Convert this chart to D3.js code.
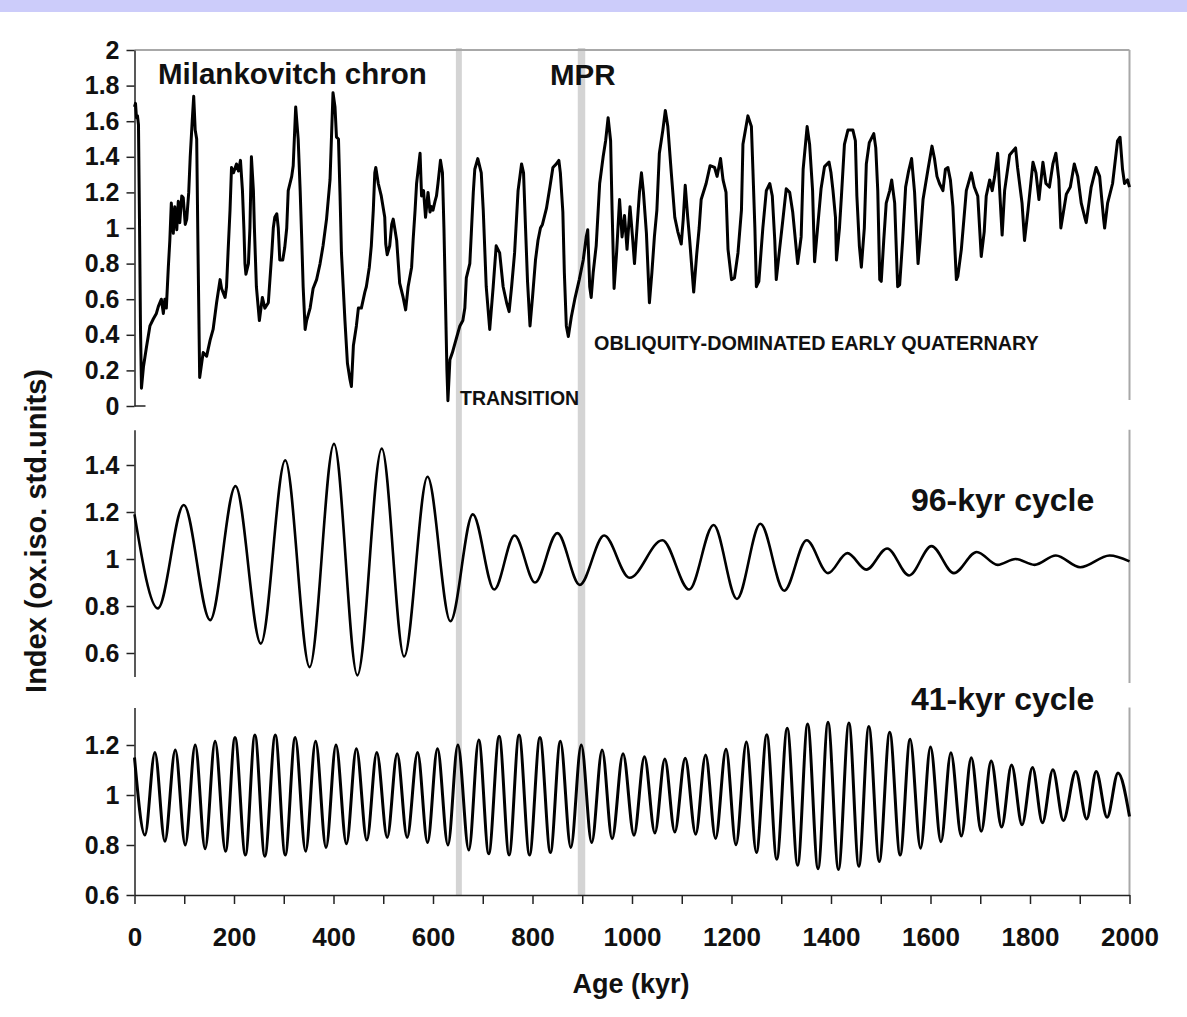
<!DOCTYPE html>
<html>
<head>
<meta charset="utf-8">
<script src="https://cdn.jsdelivr.net/npm/d3@7"></script>
<style>
  body { margin: 0; background: #fff; }
  svg { display: block; }
  text { font-family: "Liberation Sans", Arial, sans-serif; }
</style>
</head>
<body>
<div id="chart"></div>
<script>
// oxygen isotope index (top panel), age in kyr
const indexAge = [0,2,4,6,8,10,12,14,18,24,31,38,44,48,54,58,61,64,68,71,74,78,81,85,88,91,95,98,102,105,109,112,116,119,122,125,128,131,
  138,145,152,158,165,172,175,182,185,188,192,195,199,205,209,213,217,220,222,224,229,232,235,239,241,245,251,257,262,269,276,279,282,286,289,292,298,
  302,306,309,316,319,324,329,333,336,339,343,346,353,359,366,373,379,386,393,399,403,406,410,413,416,423,428,433,436,440,446,450,456,463,466,472,476,
  480,483,485,490,496,503,505,508,513,517,520,523,527,533,540,545,550,557,560,564,567,574,577,581,585,590,594,597,600,604,607,610,615,619,622,625,628,
  630,634,639,644,650,654,660,664,667,674,677,681,684,690,697,701,707,714,721,727,734,741,748,753,758,764,771,778,782,786,790,795,800,806,811,816,820,
  828,835,841,848,853,856,861,864,868,872,878,885,894,902,908,911,915,918,922,928,935,942,947,952,957,960,964,969,975,980,985,990,996,1001,1005,1010,
  1015,1019,1023,1029,1035,1040,1045,1050,1055,1062,1067,1072,1079,1086,1092,1099,1103,1107,1112,1116,1124,1130,1135,1139,1149,1157,1166,1171,1178,
  1183,1189,1193,1200,1206,1213,1220,1223,1233,1240,1243,1247,1250,1255,1260,1263,1270,1277,1282,1287,1290,1297,1303,1310,1317,1323,1333,1340,1344,
  1352,1357,1363,1367,1373,1380,1387,1396,1400,1404,1409,1411,1417,1421,1427,1434,1444,1449,1452,1457,1461,1467,1471,1477,1486,1490,1494,1498,1501,
  1506,1511,1518,1522,1528,1534,1538,1544,1550,1556,1562,1568,1575,1579,1585,1595,1603,1608,1613,1618,1625,1630,1635,1640,1645,1652,1655,1662,1672,
  1682,1688,1695,1702,1708,1712,1719,1724,1729,1735,1742,1744,1749,1759,1771,1775,1784,1789,1796,1806,1812,1818,1826,1832,1839,1846,1852,1858,1862,
  1873,1881,1889,1896,1903,1911,1913,1923,1933,1940,1948,1950,1956,1966,1976,1981,1986,1990,1996,2000];
const indexVal = [1.68,1.70,1.62,1.63,1.58,1.05,0.45,0.10,0.22,0.33,0.45,0.49,0.52,0.56,0.60,0.52,0.60,0.55,0.78,0.93,1.14,0.97,1.12,0.99,1.15,1.03,1.18,1.17,1.02,1.05,1.20,1.40,1.60,1.74,1.55,1.50,0.80,0.16,
  0.30,0.28,0.37,0.43,0.58,0.71,0.66,0.61,0.67,0.86,1.10,1.34,1.31,1.36,1.32,1.38,1.21,0.99,0.80,0.74,0.80,1.00,1.40,1.21,1.00,0.67,0.48,0.61,0.55,0.58,0.86,1.00,1.06,1.08,1.00,0.82,0.82,
  0.89,1.00,1.21,1.29,1.35,1.68,1.50,1.21,0.95,0.67,0.43,0.48,0.55,0.66,0.71,0.80,0.90,1.05,1.27,1.76,1.68,1.51,1.50,1.20,0.86,0.48,0.24,0.15,0.11,0.34,0.45,0.55,0.55,0.64,0.67,0.78,0.90,
  1.10,1.31,1.34,1.25,1.18,1.06,0.91,0.85,0.90,1.02,1.05,1.00,0.93,0.69,0.61,0.54,0.67,0.78,0.93,1.10,1.25,1.42,1.18,1.21,1.06,1.20,1.09,1.12,1.10,1.15,1.18,1.25,1.38,1.31,1.00,0.60,0.20,
  0.03,0.26,0.30,0.35,0.41,0.45,0.48,0.55,0.72,0.80,0.97,1.20,1.33,1.39,1.31,1.10,0.67,0.43,0.67,0.90,0.86,0.67,0.58,0.53,0.67,0.86,1.21,1.36,1.31,1.00,0.70,0.45,0.61,0.82,0.93,1.00,1.02,
  1.11,1.23,1.34,1.36,1.38,1.31,1.09,0.75,0.45,0.39,0.50,0.60,0.71,0.82,0.95,0.99,0.67,0.61,0.75,0.90,1.25,1.40,1.49,1.62,1.49,1.10,0.66,0.86,1.16,0.95,1.07,0.88,1.12,0.95,0.80,1.00,
  1.20,1.31,1.20,0.97,0.58,0.75,0.95,1.10,1.42,1.55,1.66,1.57,1.31,1.06,0.98,0.91,1.05,1.24,1.06,0.93,0.64,0.85,1.00,1.16,1.25,1.35,1.34,1.29,1.39,
  1.27,1.20,0.88,0.71,0.72,0.86,1.10,1.47,1.63,1.57,1.33,1.00,0.67,0.70,0.89,1.00,1.21,1.25,1.18,0.93,0.71,0.89,1.04,1.22,1.20,1.09,0.80,0.95,1.33,
  1.57,1.47,1.21,0.81,1.00,1.22,1.345,1.37,1.31,1.21,1.06,0.82,1.00,1.18,1.47,1.55,1.55,1.49,1.18,0.90,0.78,1.00,1.36,1.48,1.53,1.45,1.21,0.71,0.70,
  0.93,1.14,1.21,1.27,1.14,0.67,0.68,0.93,1.23,1.32,1.39,1.20,0.80,0.93,1.16,1.33,1.46,1.39,1.29,1.25,1.21,1.33,1.34,1.27,1.12,0.71,0.73,0.88,1.21,
  1.31,1.23,1.18,0.84,0.98,1.18,1.27,1.21,1.29,1.42,1.06,0.96,1.21,1.41,1.45,1.34,1.14,0.93,1.10,1.37,1.31,1.16,1.37,1.25,1.23,1.36,1.42,1.27,1.00,
  1.19,1.23,1.36,1.29,1.14,1.05,1.03,1.23,1.34,1.29,1.05,1.00,1.14,1.25,1.49,1.51,1.33,1.25,1.27,1.23];

// 96-kyr cycle, turning points
const c96Age = [0,47,99,152,203,254,303,352,401,448,497,542,589,635,680,723,764,805,850,895,944,995,1061,1115,1164,1211,1258,1306,1351,1394,1433,1471,1513,1557,1602,1647,1693,1735,1771,1809,1852,1901,1960,2000];
const c96Val = [1.19,0.79,1.23,0.74,1.31,0.64,1.42,0.54,1.49,0.505,1.47,0.585,1.35,0.735,1.19,0.87,1.10,0.90,1.11,0.89,1.10,0.92,1.08,0.87,1.145,0.83,1.15,0.865,1.08,0.94,1.025,0.955,1.045,0.93,1.055,0.94,1.03,0.975,1.0,0.975,1.015,0.965,1.015,0.99];

// 41-kyr cycle, turning points
const c41Age = [0,21,41,61,82,102,122,142,162,183,202,223,242,262,283,303,323,344,364,385,405,426,446,467,487,508,528,548,569,589,609,630,650,672,692,712,733,753,773,794,815,836,856,877,898,919,940,960,982,
  1004,1025,1046,1066,1086,1107,1128,1148,1168,1189,1209,1230,1250,1271,1291,1312,1333,1353,1374,1394,1415,1436,1456,1476,1497,1518,1539,1559,1580,1600,1621,1641,1662,1682,1702,1722,1743,1763,1784,1805,1825,1846,1867,1892,1914,1933,1955,1977,2000];
const c41Val = [1.15,0.84,1.17,0.815,1.18,0.80,1.20,0.785,1.215,0.775,1.23,0.76,1.24,0.755,1.24,0.76,1.23,0.775,1.215,0.79,1.20,0.805,1.185,0.82,1.17,0.83,1.165,0.83,1.17,0.81,1.185,0.80,1.20,0.78,1.22,0.765,1.235,0.76,1.24,0.76,1.23,0.77,1.215,0.79,1.20,0.81,1.18,0.825,1.165,
  0.839,1.153,0.848,1.144,0.852,1.147,0.843,1.16,0.826,1.183,0.801,1.212,0.77,1.241,0.743,1.267,0.719,1.284,0.705,1.291,0.702,1.288,0.715,1.274,0.734,1.251,0.76,1.223,0.787,1.192,0.813,1.169,0.836,1.149,0.855,1.136,0.872,1.12,0.881,1.11,0.889,1.101,0.898,1.094,0.904,1.094,0.911,1.088,0.914];

// grey bands (TRANSITION start, MPR)
const bandStart = [646, 891];
const bandEnd = [658, 906];

const xTicks = d3.range(0, 2001, 100);
const topTicks = [0, 0.2, 0.4, 0.6, 0.8, 1, 1.2, 1.4, 1.6, 1.8, 2];
const midTicks = [0.6, 0.8, 1, 1.2, 1.4];
const botTicks = [0.6, 0.8, 1, 1.2];

const width = 1187;
const height = 1017;

const svg = d3.select('#chart').append('svg')
    .attr('width', width)
    .attr('height', height);

// lavender strip along the top edge
svg.append('rect')
    .attr('x', 0).attr('y', 0)
    .attr('width', width).attr('height', 12)
    .attr('fill', '#ccccfa');

const x = d3.scaleLinear().domain([0, 2000]).range([134.5, 1129.5]);
const yTop = d3.scaleLinear().domain([0, 2]).range([406, 50]);
const yMid = d3.scaleLinear().domain([0.5, 1.55]).range([676.5, 429.75]);
const yBot = d3.scaleLinear().domain([0.6, 1.35]).range([895, 707.5]);

// vertical grey bands across all panels
svg.selectAll('rect.band')
    .data(bandStart)
    .join('rect')
    .attr('class', 'band')
    .attr('x', (d, i) => x(d))
    .attr('width', (d, i) => x(bandEnd[i]) - x(d))
    .attr('y', 48)
    .attr('height', yBot(0.6) - 48)
    .attr('fill', '#d4d4d4');

// grey frame lines (top + right borders)
const frame = '#a8a8a8';
svg.append('line')
    .attr('x1', x(0)).attr('x2', x(2000))
    .attr('y1', yTop(2)).attr('y2', yTop(2))
    .attr('stroke', frame).attr('stroke-width', 2);
[[yTop(2), 400], [yMid(1.55), 683], [yBot(1.35), yBot(0.6)]].forEach(s => {
    svg.append('line')
        .attr('x1', x(2000)).attr('x2', x(2000))
        .attr('y1', s[0]).attr('y2', s[1])
        .attr('stroke', frame).attr('stroke-width', 2);
});

const fmt = d => String(+d.toFixed(1));

function yAxis(scale, ticks) {
    const g = svg.append('g')
        .attr('transform', `translate(${x(0)},0)`)
        .call(d3.axisLeft(scale).tickValues(ticks).tickFormat(fmt).tickSize(8).tickSizeOuter(0).tickPadding(7));
    g.selectAll('path, line').attr('stroke', '#222').attr('stroke-width', 1.5);
    g.selectAll('text')
        .attr('fill', '#111')
        .style('font-size', '25px')
        .style('font-weight', 'bold')
        .style('font-family', '"Liberation Sans", Arial, sans-serif');
    return g;
}
yAxis(yTop, topTicks);
yAxis(yMid, midTicks);
yAxis(yBot, botTicks);

// little stub at the bottom of the top panel
svg.append('line')
    .attr('x1', x(0)).attr('x2', x(0) + 11)
    .attr('y1', yTop(0)).attr('y2', yTop(0))
    .attr('stroke', '#222').attr('stroke-width', 1.5);

// x axis
const gx = svg.append('g')
    .attr('transform', `translate(0,${yBot(0.6)})`)
    .call(d3.axisBottom(x).tickValues(xTicks)
        .tickFormat(d => d % 200 === 0 ? d : '')
        .tickSize(9).tickSizeOuter(0).tickPadding(24));
gx.selectAll('path, line').attr('stroke', '#222').attr('stroke-width', 1.5);
gx.selectAll('text')
    .attr('fill', '#111')
    .style('font-size', '26px')
    .style('font-weight', 'bold')
    .style('font-family', '"Liberation Sans", Arial, sans-serif');

// series lines
function drawLine(ages, vals, yScale, curve, sw) {
    const line = d3.line()
        .x(d => x(d[0]))
        .y(d => yScale(d[1]))
        .curve(curve);
    svg.append('path')
        .datum(ages.map((a, i) => [a, vals[i]]))
        .attr('d', line)
        .attr('fill', 'none')
        .attr('stroke', '#000')
        .attr('stroke-width', sw)
        .attr('stroke-linejoin', 'round');
}
drawLine(indexAge, indexVal, yTop, d3.curveLinear, 3);
drawLine(c96Age, c96Val, yMid, d3.curveMonotoneX, 2.6);
drawLine(c41Age, c41Val, yBot, d3.curveMonotoneX, 3);

// annotations
function label(txt, xp, yp, size) {
    svg.append('text')
        .attr('x', xp).attr('y', yp)
        .attr('fill', '#111')
        .style('font-size', size + 'px')
        .style('font-weight', 'bold')
        .text(txt);
}
label('Milankovitch chron', 158, 84, 29.5);
label('MPR', 550, 85, 29.5);
label('TRANSITION', 460, 405, 19.5);
label('OBLIQUITY-DOMINATED EARLY QUATERNARY', 594, 350, 19.8);
label('96-kyr cycle', 911, 511, 32);
label('41-kyr cycle', 911, 710, 32);

svg.append('text')
    .attr('transform', 'translate(46,531) rotate(-90)')
    .attr('text-anchor', 'middle')
    .attr('fill', '#111')
    .style('font-size', '29px')
    .style('font-weight', 'bold')
    .text('Index (ox.iso. std.units)');

svg.append('text')
    .attr('x', 631).attr('y', 993)
    .attr('text-anchor', 'middle')
    .attr('fill', '#111')
    .style('font-size', '27px')
    .style('font-weight', 'bold')
    .text('Age (kyr)');
</script>
</body>
</html>
